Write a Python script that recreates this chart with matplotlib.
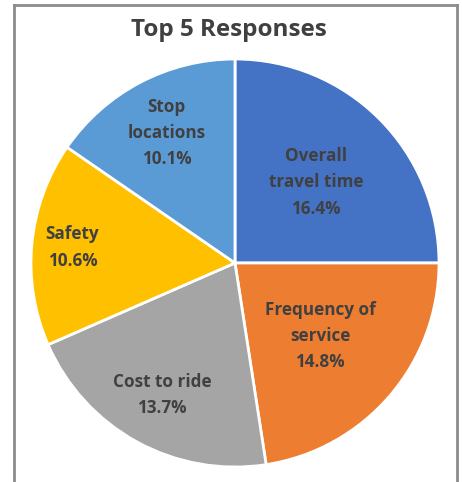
import matplotlib.pyplot as plt
from matplotlib.lines import Line2D
import numpy as np

# Data
labels = ["Overall\ntravel time", "Frequency of\nservice", "Cost to ride", "Safety", "Stop\nlocations"]
values = [16.4, 14.8, 13.7, 10.6, 10.1]
colors = ["#4472C4", "#ED7D31", "#A5A5A5", "#FFC000", "#5B9BD5"]

# label distance from centre (fraction of radius), like Excel's best fit
label_dist = [0.56, 0.55, 0.74, 0.80, 0.72]

W, H = 462, 482
fig = plt.figure(figsize=(W / 100, H / 100), dpi=100)
ax = fig.add_axes([0, 0, 1, 1])

cx, cy, r = 235, H - 263, 204
wedges, _ = ax.pie(values, colors=colors, startangle=90, counterclock=False,
                   center=(cx, cy), radius=r,
                   wedgeprops=dict(edgecolor="white", linewidth=2))

for w, lab, v, d in zip(wedges, labels, values, label_dist):
    mid = np.deg2rad((w.theta1 + w.theta2) / 2)
    x = cx + d * r * np.cos(mid)
    y = cy + d * r * np.sin(mid)
    ax.text(x, y, f"{lab}\n{v}%", ha="center", va="center", fontsize=12.3,
            fontweight="bold", color="#404040", family="Open Sans",
            linespacing=1.6)

ax.set_xlim(0, W)
ax.set_ylim(0, H)
ax.set_aspect("equal")
ax.axis("off")

# Title
fig.text(229 / W, 1 - 30 / H, "Top 5 Responses", ha="center", va="center",
         fontsize=17.5, fontweight="bold", color="#404040", family="Open Sans")

# Cropped chart frame
frame = dict(color="#8c8c8c", linewidth=2, transform=fig.transFigure)
fig.add_artist(Line2D([13.5 / W, 13.5 / W], [0, 1 - 5 / H], **frame))
fig.add_artist(Line2D([13.5 / W, 457 / W], [1 - 5 / H, 1 - 5 / H], **frame))
fig.add_artist(Line2D([457 / W, 457 / W], [1 - 5 / H, 0], **frame))

fig.savefig("out.png", dpi=100)
